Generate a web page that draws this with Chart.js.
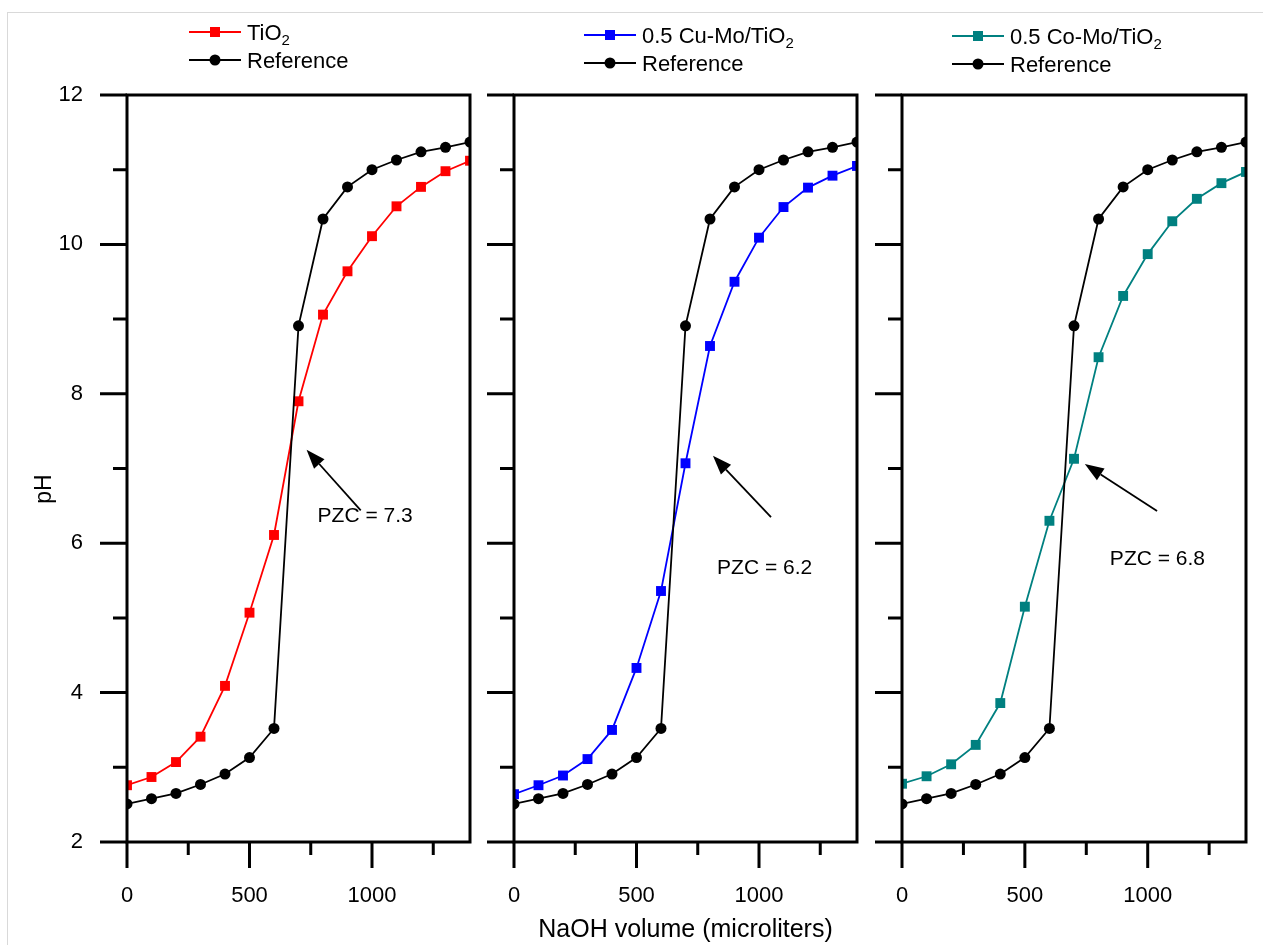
<!DOCTYPE html>
<html>
<head>
<meta charset="utf-8">
<script src="https://cdn.jsdelivr.net/npm/chart.js@4.4.1/dist/chart.umd.min.js"></script>
<style>
html,body{margin:0;padding:0;background:#fff;}
#wrap{position:relative;width:1263px;height:945px;overflow:hidden;background:#fff;}
#frame{position:absolute;left:7px;top:12px;width:1400px;height:1100px;border-left:1px solid #d9d9d9;border-top:1px solid #d9d9d9;}
canvas{position:absolute;left:0;top:0;}
</style>
</head>
<body>
<div id="wrap">
<div id="frame"></div>
<canvas id="c1" width="1263" height="945"></canvas>
<canvas id="c2" width="1263" height="945"></canvas>
<canvas id="c3" width="1263" height="945"></canvas>
</div>
<script>
// ---- data ----
const naohVolume = [0,100,200,300,400,500,600,700,800,900,1000,1100,1200,1300,1400];
const referencePH = [2.51,2.58,2.65,2.77,2.91,3.13,3.52,8.91,10.34,10.77,11.00,11.13,11.24,11.30,11.37];
const tio2PH  = [2.76,2.87,3.07,3.41,4.09,5.07,6.11,7.90,9.06,9.64,10.11,10.51,10.77,10.98,11.12];
const cuMoPH  = [2.64,2.76,2.89,3.11,3.50,4.33,5.36,7.07,8.64,9.50,10.09,10.50,10.76,10.92,11.05];
const coMoPH  = [2.78,2.88,3.04,3.30,3.86,5.15,6.30,7.13,8.49,9.31,9.87,10.31,10.61,10.82,10.97];
const seriesNames = ['TiO₂','0.5 Cu-Mo/TiO₂','0.5 Co-Mo/TiO₂'];
const referenceName = 'Reference';
const pzcLabels = ['PZC = 7.3','PZC = 6.2','PZC = 6.8'];
const xTickLabels = [0,500,1000];
const xMinorTicks = [250,750,1250];
const yTickLabels = [2,4,6,8,10,12];
const yMinorTicks = [3,5,7,9,11];
const xTitle = 'NaOH volume (microliters)';
const yTitle = 'pH';

const FONT = '"Liberation Sans", Arial, sans-serif';

function drawLabel(ctx, text, x, y, size) {
  // draws text, rendering '₂' as a subscript 2
  const parts = text.split('₂');
  let cx = x;
  parts.forEach((p, i) => {
    ctx.font = size + 'px ' + FONT;
    ctx.fillText(p, cx, y);
    cx += ctx.measureText(p).width;
    if (i < parts.length - 1) {
      ctx.font = Math.round(size * 0.68) + 'px ' + FONT;
      ctx.fillText('2', cx, y + 5);
      cx += ctx.measureText('2').width;
    }
  });
}

const decorPlugin = {
  id: 'decor',
  afterDatasetsDraw(chart, args, o) {
    const {ctx, chartArea: a, scales: {x, y}} = chart;
    ctx.save();
    ctx.strokeStyle = '#000';
    ctx.lineWidth = 3;
    ctx.strokeRect(a.left, a.top, a.right - a.left, a.bottom - a.top);
    ctx.beginPath();
    yTickLabels.forEach(v => { const p = y.getPixelForValue(v); ctx.moveTo(a.left - 27, p); ctx.lineTo(a.left, p); });
    yMinorTicks.forEach(v => { const p = y.getPixelForValue(v); ctx.moveTo(a.left - 14, p); ctx.lineTo(a.left, p); });
    xTickLabels.forEach(v => { const p = x.getPixelForValue(v); ctx.moveTo(p, a.bottom); ctx.lineTo(p, a.bottom + 26); });
    xMinorTicks.forEach(v => { const p = x.getPixelForValue(v); ctx.moveTo(p, a.bottom); ctx.lineTo(p, a.bottom + 13); });
    ctx.stroke();

    // PZC arrow and text
    const an = o.pzc;
    const tx = x.getPixelForValue(an.tailX), ty = y.getPixelForValue(an.tailY);
    const hx = x.getPixelForValue(an.headX), hy = y.getPixelForValue(an.headY);
    const ang = Math.atan2(hy - ty, hx - tx);
    const L = 19, W = 7;
    const bx = hx - L * Math.cos(ang), by = hy - L * Math.sin(ang);
    ctx.lineWidth = 1.8;
    ctx.beginPath(); ctx.moveTo(tx, ty); ctx.lineTo(bx, by); ctx.stroke();
    ctx.fillStyle = '#000';
    ctx.beginPath();
    ctx.moveTo(hx, hy);
    ctx.lineTo(bx + W * Math.sin(ang), by - W * Math.cos(ang));
    ctx.lineTo(bx - W * Math.sin(ang), by + W * Math.cos(ang));
    ctx.closePath(); ctx.fill();
    ctx.textAlign = 'left'; ctx.textBaseline = 'middle';
    ctx.font = '21px ' + FONT;
    ctx.fillText(an.text, x.getPixelForValue(an.textX), y.getPixelForValue(an.textY));

    // legend
    const lg = o.legend;
    ctx.textBaseline = 'alphabetic';
    chart.data.datasets.forEach((ds, i) => {
      const ly = lg.y + i * 28;
      ctx.strokeStyle = ds.borderColor; ctx.fillStyle = ds.borderColor;
      ctx.lineWidth = 1.8;
      ctx.beginPath(); ctx.moveTo(lg.x, ly); ctx.lineTo(lg.x + 52, ly); ctx.stroke();
      const mx = lg.x + 26;
      if (ds.pointStyle === 'rect') { ctx.fillRect(mx - 5, ly - 5, 10, 10); }
      else { ctx.beginPath(); ctx.arc(mx, ly, 5.5, 0, Math.PI * 2); ctx.fill(); }
      ctx.fillStyle = '#000';
      drawLabel(ctx, ds.label, lg.x + 58, ly + 8, 22);
    });

    if (o.showYTitle) {
      ctx.save();
      ctx.translate(45, 489);
      ctx.rotate(-Math.PI / 2);
      ctx.textAlign = 'center'; ctx.textBaseline = 'middle';
      ctx.font = '23px ' + FONT;
      ctx.fillStyle = '#000';
      ctx.fillText(yTitle, 0, 0);
      ctx.restore();
    }
    ctx.restore();
  }
};

const panels = [
  {id:'c1', name:seriesNames[0], data:tio2PH, color:'#ff0000', left:127, right:470, first:true, xTitle:false,
   legend:{x:189, y:32}, pzc:{tailX:954, tailY:6.44, headX:733, headY:7.25, textX:778, textY:6.36, text:pzcLabels[0]}},
  {id:'c2', name:seriesNames[1], data:cuMoPH, color:'#0000ff', left:514, right:857, first:false, xTitle:true,
   legend:{x:584, y:35}, pzc:{tailX:1049, tailY:6.35, headX:812, headY:7.17, textX:829, textY:5.67, text:pzcLabels[1]}},
  {id:'c3', name:seriesNames[2], data:coMoPH, color:'#008080', left:902, right:1246, first:false, xTitle:false,
   legend:{x:952, y:36}, pzc:{tailX:1038, tailY:6.43, headX:744, headY:7.06, textX:846, textY:5.78, text:pzcLabels[2]}}
];

panels.forEach(p => {
  const yW = p.first ? p.left : 40;
  new Chart(document.getElementById(p.id), {
    type: 'line',
    data: {
      labels: naohVolume,
      datasets: [
        {label: p.name, data: naohVolume.map((v, i) => ({x: v, y: p.data[i]})), borderColor: p.color, backgroundColor: p.color,
         borderWidth: 1.8, pointStyle: 'rect', pointRadius: 7, pointBorderWidth: 0, pointBackgroundColor: p.color, clip: 0, order: 2},
        {label: referenceName, data: naohVolume.map((v, i) => ({x: v, y: referencePH[i]})), borderColor: '#000', backgroundColor: '#000',
         borderWidth: 1.8, pointStyle: 'circle', pointRadius: 5.5, pointBorderWidth: 0, pointBackgroundColor: '#000', clip: 0, order: 1}
      ]
    },
    options: {
      responsive: false, animation: false, devicePixelRatio: 1,
      layout: {padding: {left: p.left - yW, right: 1263 - p.right, top: 95, bottom: 0}},
      plugins: {legend: {display: false}, tooltip: {enabled: false},
        decor: {legend: p.legend, pzc: p.pzc, showYTitle: p.first}},
      scales: {
        x: {type: 'linear', min: 0, max: 1400,
          afterBuildTicks: s => { s.ticks = xTickLabels.map(v => ({value: v})); },
          afterFit: s => { s.height = 103; },
          grid: {display: false, drawTicks: false}, border: {display: false},
          ticks: {font: {family: FONT, size: 22}, color: '#000', padding: 41, maxRotation: 0, callback: v => String(v)},
          title: {display: p.xTitle, text: xTitle, font: {family: FONT, size: 25}, color: '#000', padding: {top: 0, bottom: 0}}
        },
        y: {type: 'linear', min: 2, max: 12,
          afterBuildTicks: s => { s.ticks = yTickLabels.map(v => ({value: v})); },
          afterFit: s => { s.width = yW; },
          grid: {display: false, drawTicks: false}, border: {display: false},
          ticks: {display: p.first, font: {family: FONT, size: 22}, color: '#000', padding: 44, callback: v => String(v)}
        }
      }
    },
    plugins: [decorPlugin]
  });
});
</script>
</body>
</html>
